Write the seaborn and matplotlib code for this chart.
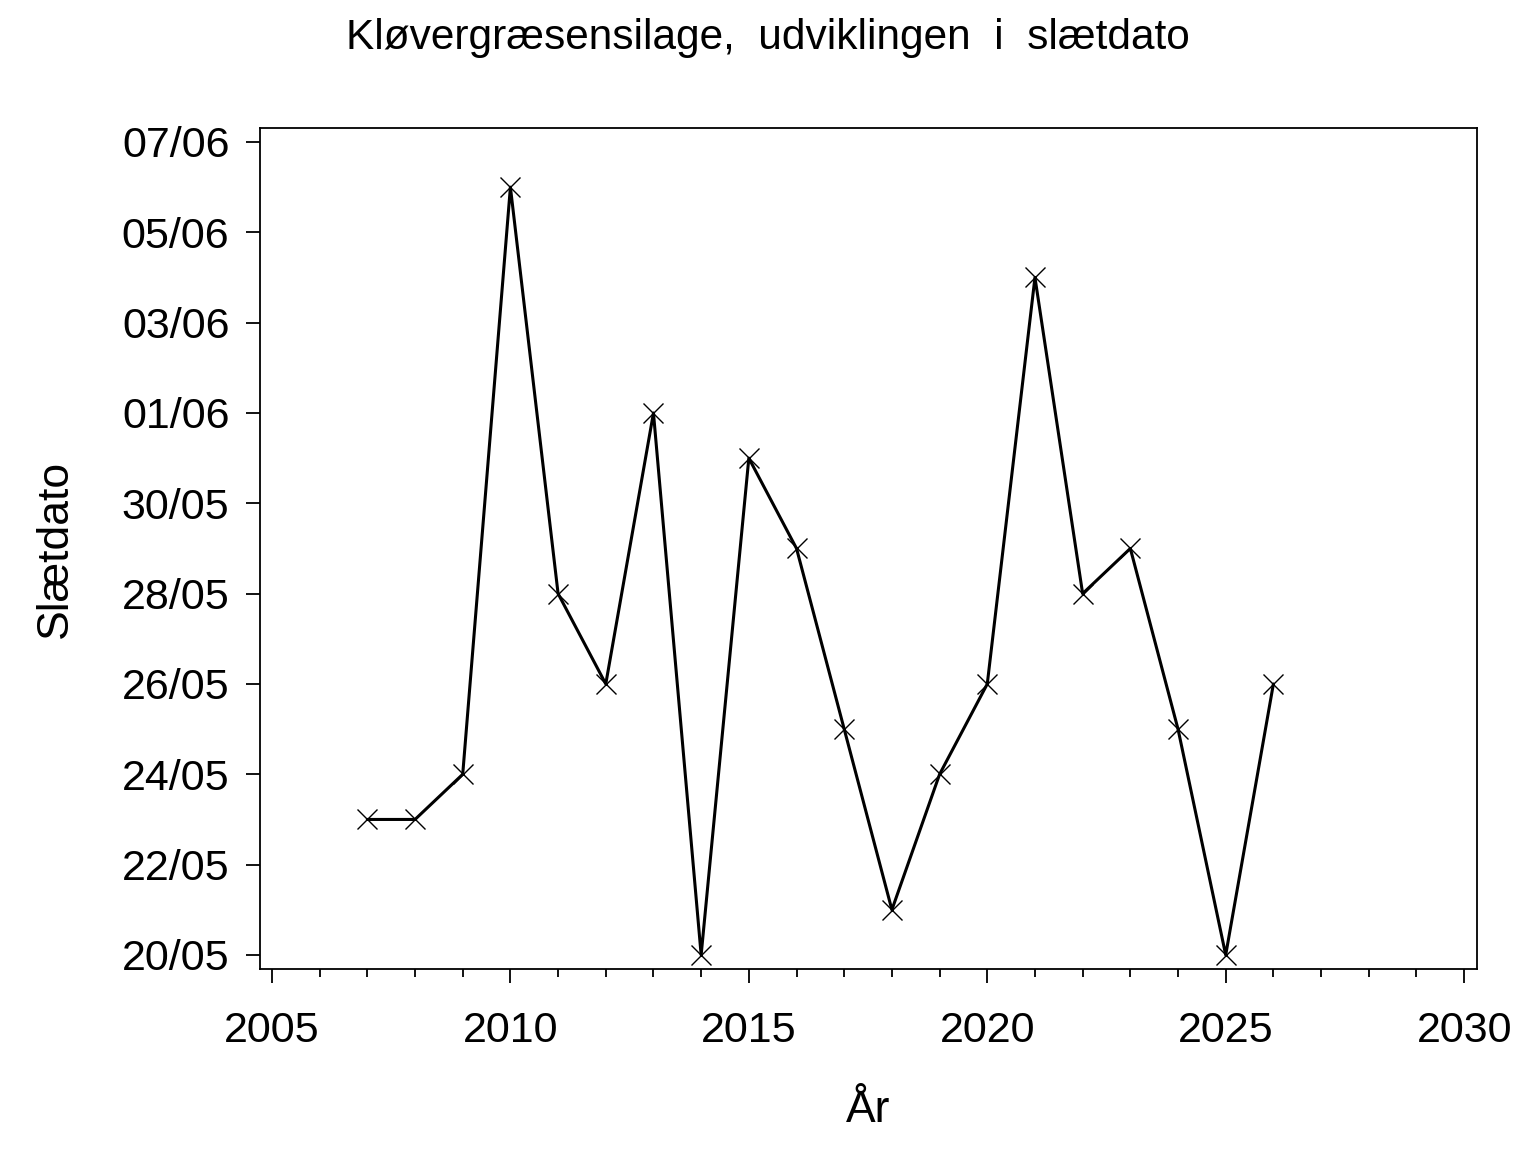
import numpy as np
import pandas as pd
import matplotlib
matplotlib.use("Agg")
import matplotlib.pyplot as plt
import matplotlib.ticker as mticker
import seaborn as sns

# ─── Data ────────────────────────────────────────────────────────────────────
years = list(range(2007, 2027))
slaetdato = ["23/05", "23/05", "24/05", "06/06", "28/05", "26/05", "01/06",
             "20/05", "31/05", "29/05", "25/05", "21/05", "24/05", "26/05",
             "04/06", "28/05", "29/05", "25/05", "20/05", "26/05"]
x_ticks = [2005, 2010, 2015, 2020, 2025, 2030]
y_ticks = ["20/05", "22/05", "24/05", "26/05", "28/05", "30/05",
           "01/06", "03/06", "05/06", "07/06"]

BASE = pd.Timestamp("2001-01-01")


def to_doy(s):
    d = pd.to_datetime(s + "/2001", format="%d/%m/%Y")
    return (d - BASE).days


def from_doy(v, _):
    return (BASE + pd.Timedelta(days=int(round(v)))).strftime("%d/%m")


df = pd.DataFrame({"aar": years, "dag": [to_doy(s) for s in slaetdato]})
ytick_vals = [to_doy(s) for s in y_ticks]

# ─── Style ───────────────────────────────────────────────────────────────────
sns.set_theme(style="ticks")
plt.rcParams["font.family"] = ["Liberation Sans", "DejaVu Sans"]

fig = plt.figure(figsize=(15.36, 11.52), dpi=100)
ax = fig.add_axes([0.1693, 0.1589, 0.7923, 0.7300])

sns.lineplot(data=df, x="aar", y="dag", estimator=None, color="black",
             linewidth=2.2, ax=ax)
ax.plot(df["aar"], df["dag"], linestyle="none", marker="x", color="black",
        markersize=14, markeredgewidth=1.0)

ax.set_xlim(2004.75, 2030.27)
ax.set_ylim(ytick_vals[0] - 0.31, ytick_vals[-1] + 0.31)
ax.set_xticks(x_ticks)
ax.xaxis.set_minor_locator(mticker.MultipleLocator(1))
ax.set_yticks(ytick_vals)
ax.yaxis.set_major_formatter(mticker.FuncFormatter(from_doy))

for s in ax.spines.values():
    s.set_color("black")
    s.set_linewidth(1.3)
ax.tick_params(axis="both", which="major", length=10, width=1.3,
               labelsize=31, color="black", labelcolor="black")
ax.tick_params(axis="y", which="major", pad=12)
ax.tick_params(axis="x", which="minor", length=6, width=1.3, color="black")
ax.tick_params(axis="x", which="major", pad=20)

ax.set_xlabel("År", fontsize=32, color="black", va="center")
ax.xaxis.set_label_coords(0.5, -0.168)
ax.set_ylabel("Slætdato", fontsize=32, color="black", va="center")
ax.yaxis.set_label_coords(-0.168, 0.5)

fig.text(0.5, 0.967, "Kløvergræsensilage,  udviklingen  i  slætdato",
         ha="center", va="center", fontsize=30.5, color="black")

fig.savefig("out.png", dpi=100, facecolor="white")
